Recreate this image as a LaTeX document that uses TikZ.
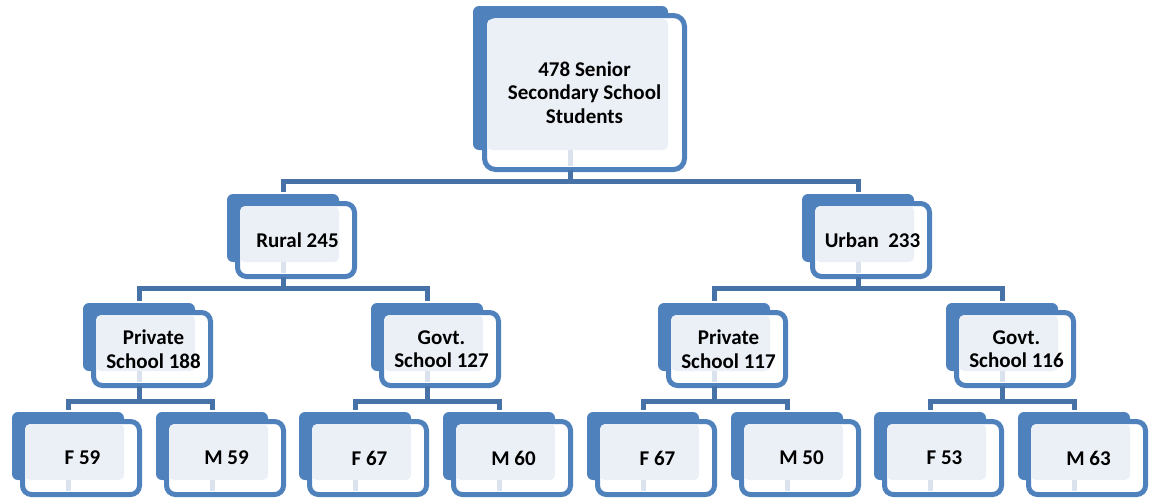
\documentclass[tikz,border=0pt]{standalone}
\usepackage{fontspec}
\setmainfont{Carlito}
\definecolor{boxblue}{RGB}{79,129,189}
\definecolor{connblue}{RGB}{70,114,168}
\definecolor{lightfill}{RGB}{235,240,247}
\definecolor{stubcol}{RGB}{218,226,238}
\tikzset{
  backbox/.style={fill=boxblue, draw=none, rounded corners=6pt, inner sep=0pt, outer sep=0pt, anchor=north west, minimum width=112pt, minimum height=68pt},
  frontbox/.style={fill=white, draw=boxblue, line width=5pt, rounded corners=9pt, inner sep=0pt, outer sep=0pt, anchor=north west, minimum width=117pt, minimum height=73pt},
  lightbox/.style={fill=lightfill, draw=none, rounded corners=5pt, inner sep=0pt, outer sep=0pt, anchor=north west, minimum width=99pt, minimum height=56pt},
  stub/.style={draw=stubcol, line width=5pt, shorten >=3.5pt},
  conn/.style={draw=connblue, line width=5pt, shorten >=2pt},
  lbl/.style={font=\fontsize{21}{23.5}\selectfont\bfseries, align=center, inner sep=0pt, text=black},
}
\newcommand\tbox[4]{%
  \node[backbox] (#1-b) at (#2,#3) {};
  \node[frontbox] (#1) at ({#2+10.5},{#3+9.5}) {};
  \node[lightbox] (#1-l) at ({#2+13},{#3+12}) {};
  \draw[stub] (#1-b.south) -- (#1-b.center |- #1.south);
  \node[lbl] (#1-t) at ([xshift=1.5pt]#1.center) {#4};
}
\begin{document}
\begin{tikzpicture}[x=1pt,y=-1pt]
\useasboundingbox (0,0) rectangle (1156,498);
% top node
\node[backbox, minimum width=195pt, minimum height=144pt] (top-b) at (473,6) {};
\node[frontbox, minimum width=200pt, minimum height=154pt, rounded corners=11pt] (top) at (484.5,15.5) {};
\node[lightbox, minimum width=181pt, minimum height=131pt] (top-l) at (487,19) {};
\draw[stub] (top-b.south) -- (top-b.center |- top.south);
\node[lbl] (top-t) at (top.center) {478 Senior\\Secondary School\\Students};
% level 1
\tbox{rur}{227}{194}{Rural 245}
\tbox{urb}{802}{194}{Urban~ 233}
% level 2
\tbox{rp}{83}{303}{Private\\School 188}
\tbox{rg}{371}{303}{Govt.\\School 127}
\tbox{up}{658}{303}{Private\\School 117}
\tbox{ug}{946}{303}{Govt.\\School 116}
% level 3
\tbox{rpf}{12}{412}{F 59}
\tbox{rpm}{156}{412}{M 59}
\tbox{rgf}{299}{412}{F 67}
\tbox{rgm}{443}{412}{M 60}
\tbox{upf}{587}{412}{F 67}
\tbox{upm}{731}{412}{M 50}
\tbox{ugf}{874}{412}{F 53}
\tbox{ugm}{1018}{412}{M 63}
% bar levels
\coordinate (bar0) at (0,181);
\coordinate (bar1) at (0,288.5);
\coordinate (bar2) at (0,401);
% connectors
\foreach \c in {rur,urb}{\draw[conn] (top-b.center |- top.south) -- (top-b.center |- bar0) -| (\c-b.north);}
\foreach \c in {rp,rg}{\draw[conn] (rur-b.center |- rur.south) -- (rur-b.center |- bar1) -| (\c-b.north);}
\foreach \c in {up,ug}{\draw[conn] (urb-b.center |- urb.south) -- (urb-b.center |- bar1) -| (\c-b.north);}
\foreach \c in {rpf,rpm}{\draw[conn] (rp-b.center |- rp.south) -- (rp-b.center |- bar2) -| (\c-b.north);}
\foreach \c in {rgf,rgm}{\draw[conn] (rg-b.center |- rg.south) -- (rg-b.center |- bar2) -| (\c-b.north);}
\foreach \c in {upf,upm}{\draw[conn] (up-b.center |- up.south) -- (up-b.center |- bar2) -| (\c-b.north);}
\foreach \c in {ugf,ugm}{\draw[conn] (ug-b.center |- ug.south) -- (ug-b.center |- bar2) -| (\c-b.north);}
\end{tikzpicture}
\end{document}
